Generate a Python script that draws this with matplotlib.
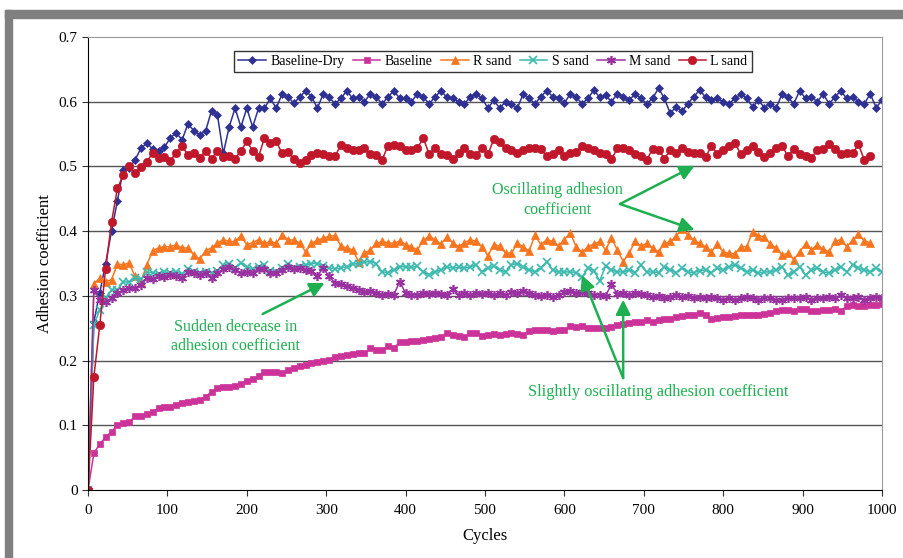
import numpy as np
import matplotlib
matplotlib.use('Agg')
import matplotlib.pyplot as plt
from matplotlib.patches import Rectangle

plt.rcParams['font.family'] = ['Liberation Serif', 'DejaVu Serif']

# adhesion coefficient (x1000), one reading every ~7.4 cycles
baseline_dry = [0, 260, 305, 350, 400, 447, 495, 497, 510, 528, 536, 527, 524, 530, 544, 552, 541, 566, 555, 548,
                555, 586, 580, 520, 561, 590, 561, 590, 561, 590, 590, 605, 590, 612, 607, 598, 607,
                617, 608, 590, 612, 607, 597, 605, 617, 605, 607, 600, 612, 607, 597, 607, 617, 605, 605, 600,
                612, 607, 597, 607, 617, 607, 605, 600, 597, 607, 612, 605, 590, 602, 590, 600,
                597, 590, 612, 605, 597, 608, 617, 608, 605, 598, 612, 607, 597, 605, 618, 607, 610, 600, 612,
                608, 602, 612, 605, 597, 605, 621, 605, 582, 592, 585, 597, 608, 618, 607, 602,
                605, 600, 597, 605, 612, 605, 592, 602, 591, 597, 590, 612, 607, 597, 617, 605, 607, 600, 612,
                597, 607, 617, 605, 607, 600, 597, 612, 591, 602]
baseline = [0, 57, 71, 82, 90, 100, 104, 105, 114, 115, 117, 121, 126, 129, 128, 131, 134, 136, 138, 139, 144,
            152, 158, 159, 159, 160, 164, 169, 171, 176, 183, 183, 183, 181, 186, 188, 191, 193, 196, 198, 200,
            201, 206, 207, 209, 210, 212, 211, 219, 217, 216, 222, 219, 229, 229, 230, 231, 232, 234, 235, 236,
            243, 240, 238, 236, 243, 242, 238, 240,
            241, 240, 241, 243, 241, 239, 245, 247, 248, 247, 246, 247, 248, 253, 252, 253, 251, 250, 251, 251,
            252, 255, 256, 258, 259, 260, 262, 260, 263, 265, 265, 268, 269, 270, 271, 273, 270, 264, 266, 268,
            268, 269, 270, 270, 270, 271, 272, 274, 276, 278, 278, 276, 279, 280, 277, 276, 278, 278, 279, 277,
            284, 286, 284, 285, 286, 286, 288]
r_sand = [0, 319, 327, 322, 325, 349, 348, 351, 330, 322, 348, 370, 374, 376, 376, 379, 374, 374, 363, 357,
          370, 374, 381, 387, 384, 384, 393, 379, 382, 387, 381, 384, 381, 394, 387, 386, 382,
          368, 381, 386, 389, 392, 393, 377, 374, 371, 353, 366, 371, 381, 384, 382, 381, 385, 379, 376,
          371, 386, 392, 387, 380, 391, 382, 376, 382, 387, 384, 376, 362, 379, 377, 366,
          366, 381, 376, 369, 394, 379, 387, 384, 377, 387, 397, 376, 367, 376, 380, 384, 371, 389, 371,
          353, 366, 384, 377, 381, 374, 368, 381, 384, 392, 404, 394, 386, 381, 376, 368,
          380, 367, 366, 365, 376, 376, 399, 393, 391, 380, 374, 363, 366, 356, 368, 380, 371, 379, 372,
          368, 384, 387, 376, 386, 395, 385, 382]
s_sand = [0, 255, 278, 297, 309, 309, 322, 321, 327, 326, 337, 336, 334, 337, 336, 337, 334, 342, 337, 336,
          337, 336, 339, 348, 350, 343, 351, 345, 342, 345, 348, 339, 337, 343, 350, 343, 345,
          348, 350, 350, 346, 343, 342, 343, 345, 349, 350, 352, 353, 350, 337, 336, 340, 345, 345, 344,
          346, 337, 333, 337, 340, 345, 343, 344, 343, 345, 348, 337, 343, 346, 340, 337,
          348, 350, 345, 340, 337, 343, 353, 340, 337, 337, 337, 336, 329, 343, 339, 323, 346, 340, 337,
          337, 340, 336, 347, 337, 337, 336, 345, 340, 336, 343, 337, 336, 339, 340, 336,
          343, 340, 345, 348, 343, 337, 340, 335, 337, 337, 340, 345, 332, 337, 345, 332, 340, 343, 337,
          335, 340, 345, 337, 348, 343, 340, 337, 343, 337]
m_sand = [0, 309, 294, 290, 297, 304, 309, 312, 312, 317, 327, 326, 330, 329, 333, 330, 327, 337, 335, 333,
          335, 327, 335, 342, 345, 340, 335, 337, 336, 342, 342, 335, 336, 340, 345, 341, 343,
          340, 338, 331, 343, 330, 320, 318, 315, 312, 309, 306, 307, 305, 301, 303, 302, 322, 304, 301,
          302, 305, 303, 305, 303, 302, 310, 302, 304, 301, 304, 303, 304, 302, 304, 301,
          306, 305, 307, 304, 301, 300, 302, 299, 301, 306, 307, 305, 306, 304, 301, 302, 300, 318, 303,
          304, 302, 304, 303, 301, 298, 300, 297, 299, 301, 298, 300, 297, 299, 296, 298,
          296, 294, 297, 294, 296, 299, 297, 294, 297, 297, 293, 294, 297, 296, 297, 299, 294, 297, 296,
          299, 297, 301, 296, 297, 299, 294, 297, 299, 296]
l_sand = [0, 175, 255, 342, 414, 466, 487, 500, 490, 499, 507, 521, 513, 515, 509, 521, 531, 518, 520, 513,
          524, 512, 524, 515, 516, 512, 524, 539, 524, 515, 544, 536, 539, 520, 522, 512, 505,
          510, 518, 521, 519, 516, 516, 533, 528, 526, 525, 528, 519, 518, 510, 532, 533, 532, 525, 525,
          528, 544, 519, 528, 519, 518, 511, 520, 528, 519, 518, 528, 519, 542, 537, 528,
          526, 521, 526, 528, 528, 527, 516, 519, 525, 516, 520, 523, 531, 528, 525, 521, 519, 511, 528,
          529, 525, 519, 516, 510, 527, 526, 512, 525, 520, 528, 523, 521, 520, 514, 532,
          519, 526, 531, 536, 519, 526, 531, 523, 514, 521, 528, 532, 516, 527, 519, 516, 513, 526, 527,
          535, 527, 519, 520, 520, 534, 510, 516]

cycles = np.linspace(0, 1000, 136)

series = [
    ('Baseline-Dry', baseline_dry, '#2E3192', 'D', 4.5),
    ('Baseline', baseline, '#CC3399', 's', 5),
    ('R sand', r_sand, '#F7751E', '^', 6),
    ('S sand', s_sand, '#3BB9AE', 'x', 5.5),
    ('M sand', m_sand, '#9932A0', (6, 2, 0), 6.5),
    ('L sand', l_sand, '#C0172B', 'o', 6),
]

fig = plt.figure(figsize=(9.04, 5.58), dpi=100)
ax = fig.add_axes([88/904, 1-490/558, 794/904, 453/558])

for name, vals, col, mk, ms in series:
    v = np.array(vals) / 1000.0
    ax.plot(cycles[:len(v)], v, color=col, marker=mk, ms=ms, lw=1.1,
            mew=1.2 if mk in ('x', (6, 2, 0)) else 0.5, label=name)

# grid and axes
for yv in np.arange(0.1, 0.65, 0.1):
    ax.axhline(yv, color='#555555', lw=1, zorder=0)
ax.set_xlim(0, 1000)
ax.set_ylim(0, 0.7)
ax.set_xticks(np.arange(0, 1001, 100))
ax.set_yticks(np.arange(0, 0.71, 0.1))
ax.set_yticklabels(['0', '0.1', '0.2', '0.3', '0.4', '0.5', '0.6', '0.7'])
ax.tick_params(direction='out', length=4, labelsize=11, color='#333333')
ax.tick_params(axis='x', pad=6)
ax.spines['top'].set_color('#999999')
ax.spines['right'].set_color('#999999')
ax.set_xlabel('Cycles', fontsize=12, labelpad=8)
ax.set_ylabel('Adhesion coefficient', fontsize=12, labelpad=4)

leg = ax.legend(loc='upper center', bbox_to_anchor=(0.51, 0.985), ncol=6, fontsize=10,
                frameon=True, fancybox=False, edgecolor='black', handlelength=2.0,
                columnspacing=0.6, handletextpad=0.3, borderpad=0.3)
leg.get_frame().set_linewidth(1)

# annotations
green = '#1DAF50'
arrow = dict(arrowstyle='-|>', color=green, lw=1.8, mutation_scale=22, shrinkA=0, shrinkB=0)
ax.text(591, 0.448, 'Oscillating adhesion\ncoefficient', color=green, fontsize=11.5,
        ha='center', va='center', linespacing=1.3)
ax.annotate('', xy=(764, 0.501), xytext=(670, 0.442), arrowprops=arrow)
ax.annotate('', xy=(764, 0.402), xytext=(670, 0.442), arrowprops=arrow)

ax.text(186, 0.237, 'Sudden decrease in\nadhesion coefficient', color=green, fontsize=11.5,
        ha='center', va='center', linespacing=1.3)
ax.annotate('', xy=(298, 0.32), xytext=(220, 0.272), arrowprops=arrow)

ax.text(718, 0.151, 'Slightly oscillating adhesion coefficient', color=green, fontsize=11.8,
        ha='center', va='center')
ax.annotate('', xy=(622, 0.332), xytext=(674, 0.173), arrowprops=arrow)
ax.annotate('', xy=(674, 0.294), xytext=(674, 0.173), arrowprops=arrow)

# grey frame around the figure
fig.patches.append(Rectangle((5/904, 0), 7/904, 1-10/558, transform=fig.transFigure,
                             color='#808080', zorder=-1))
fig.patches.append(Rectangle((5/904, 1-18/558), 1, 8/558, transform=fig.transFigure,
                             color='#808080', zorder=-1))

fig.savefig('out.png', dpi=100)
